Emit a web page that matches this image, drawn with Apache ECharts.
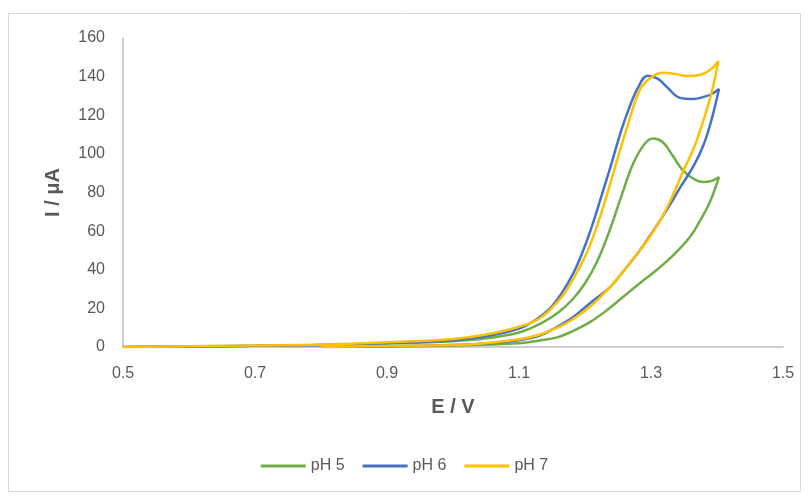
<!DOCTYPE html>
<html>
<head>
<meta charset="utf-8">
<script src="https://cdn.jsdelivr.net/npm/echarts@6/dist/echarts.min.js"></script>
<style>
  html, body { margin: 0; padding: 0; background: #fff; }
  #cv { width: 809px; height: 496px; }
</style>
</head>
<body>
<div id="cv"></div>
<script>
// potentials (V) and currents (uA) along each CV loop: forward then reverse
const e5 = [0.5, 0.6, 0.7, 0.8, 0.9, 1.0, 1.05, 1.1, 1.132, 1.16, 1.182, 1.2, 1.218, 1.238, 1.255, 1.273, 1.29, 1.303, 1.318, 1.333, 1.348, 1.365, 1.379, 1.392, 1.403, 1.389, 1.372, 1.359, 1.335, 1.309, 1.283, 1.258, 1.233, 1.208, 1.18, 1.158, 1.132, 1.1, 1.0, 0.9, 0.8];
const i5 = [0, 0.3, 0.6, 1, 1.8, 3, 4.5, 7.5, 12, 18, 25, 33, 44, 61, 78, 95, 105, 108, 106, 99, 91.6, 87, 85.4, 86, 88, 75, 64, 57, 48, 40, 33, 26, 19, 13, 8, 5, 3.4, 2, 0.8, 0.3, 0];

const e6 = [0.5, 0.6, 0.7, 0.8, 0.9, 1.0, 1.05, 1.1, 1.125, 1.147, 1.165, 1.182, 1.195, 1.208, 1.223, 1.241, 1.253, 1.265, 1.28, 1.295, 1.31, 1.324, 1.344, 1.364, 1.38, 1.392, 1.403, 1.392, 1.38, 1.365, 1.345, 1.324, 1.303, 1.283, 1.26, 1.238, 1.208, 1.18, 1.158, 1.132, 1.1, 1.05, 1.0, 0.9, 0.8];
const i6 = [0, 0.3, 0.6, 1, 2, 3.5, 5.5, 9.5, 14, 20, 28, 38, 48, 60, 76, 96, 110, 122, 134, 140.5, 139, 134.6, 129, 128.4, 129.5, 131, 133.6, 118, 105, 94, 83, 71, 60, 50, 40, 31, 22.8, 15, 10.5, 6, 3.5, 1.8, 1, 0.4, 0];

const e7 = [0.5, 0.6, 0.7, 0.8, 0.9, 1.0, 1.05, 1.1, 1.132, 1.16, 1.175, 1.19, 1.208, 1.228, 1.248, 1.264, 1.283, 1.3, 1.318, 1.335, 1.355, 1.375, 1.39, 1.402, 1.392, 1.38, 1.365, 1.35, 1.335, 1.318, 1.3, 1.283, 1.26, 1.238, 1.208, 1.18, 1.158, 1.132, 1.1, 1.05, 1.0, 0.9, 0.8];
const i7 = [0, 0.4, 0.8, 1.3, 2.5, 4.2, 6.5, 10.5, 15, 24, 31, 40, 53, 73, 96, 114, 133, 139.5, 142, 141.5, 140.3, 141, 143.5, 148, 132, 118, 103, 92, 80, 68, 58, 50, 40, 31, 21, 14, 10, 6.5, 4, 2, 1, 0.5, 0];

const seriesNames = ['pH 5', 'pH 6', 'pH 7'];
const colors = ['#70ad47', '#4472c4', '#ffc000'];

const pairs = (xs, ys) => xs.map((x, k) => [x, ys[k]]);
const loops = [pairs(e5, i5), pairs(e6, i6), pairs(e7, i7)];

const chart = echarts.init(document.getElementById('cv'));
const font = 'Liberation Sans';

const option = {
    animation: false,
    textStyle: { fontFamily: font },
    graphic: [{
        type: 'rect',
        shape: { x: 8.5, y: 13.5, width: 792, height: 478 },
        style: { fill: 'none', stroke: '#d9d9d9', lineWidth: 1 },
        silent: true
    }],
    grid: { left: 123, right: 26, top: 38, bottom: 149 },
    xAxis: {
        type: 'value',
        min: 0.5,
        max: 1.5,
        interval: 0.2,
        name: 'E / V',
        nameLocation: 'middle',
        nameGap: 50,
        nameTextStyle: { fontSize: 20, fontWeight: 'bold', color: '#595959' },
        axisLine: { show: true, lineStyle: { color: '#bfbfbf', width: 1.5 } },
        axisTick: { show: false },
        splitLine: { show: false },
        axisLabel: {
            color: '#595959',
            fontSize: 16,
            margin: 19,
            formatter: v => v.toFixed(1)
        }
    },
    yAxis: {
        type: 'value',
        min: 0,
        max: 160,
        interval: 20,
        name: 'I / μA',
        nameLocation: 'middle',
        nameRotate: 90,
        nameGap: 60,
        nameTextStyle: { fontSize: 20, fontWeight: 'bold', color: '#595959' },
        axisLine: { show: true, lineStyle: { color: '#bfbfbf', width: 1.5 } },
        axisTick: { show: false },
        splitLine: { show: false },
        axisLabel: { color: '#595959', fontSize: 16, margin: 18 }
    },
    legend: {
        bottom: 17,
        left: 'center',
        icon: 'rect',
        itemWidth: 45,
        itemHeight: 3,
        itemGap: 18,
        textStyle: { color: '#595959', fontSize: 16 },
        data: seriesNames
    },
    series: loops.map((d, k) => ({
        name: seriesNames[k],
        type: 'line',
        data: d,
        smooth: 0.4,
        showSymbol: false,
        lineStyle: { color: colors[k], width: 2.5 },
        itemStyle: { color: colors[k] }
    }))
};

chart.setOption(option);
</script>
</body>
</html>
